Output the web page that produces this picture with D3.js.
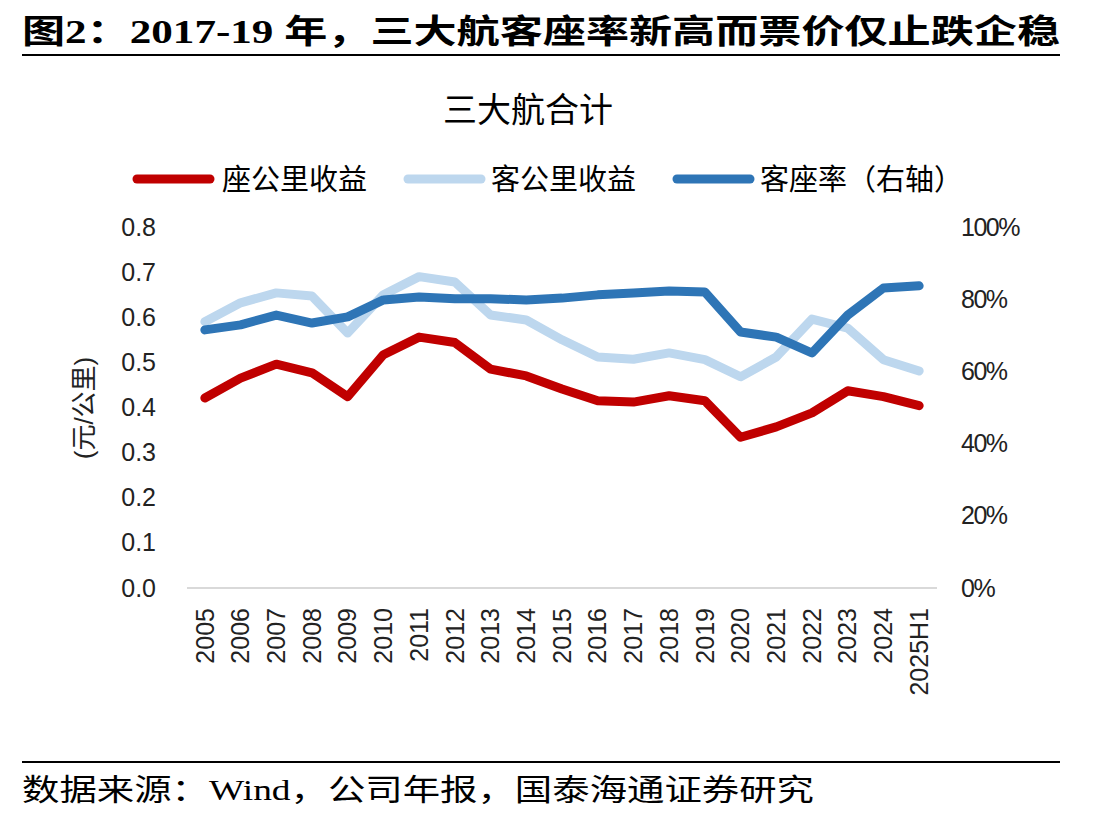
<!DOCTYPE html>
<html><head><meta charset="utf-8">
<script src="https://cdn.jsdelivr.net/npm/d3@7/dist/d3.min.js"></script>
<style>
body{margin:0;background:#fff;}
svg{display:block;}
</style></head>
<body><svg id="c" width="1107" height="821"></svg>
<script>
const categories = ["2005","2006","2007","2008","2009","2010","2011","2012","2013","2014","2015","2016","2017","2018","2019","2020","2021","2022","2023","2024","2025H1"];
const seatYield = [0.421,0.465,0.496,0.477,0.424,0.517,0.556,0.544,0.485,0.470,0.441,0.415,0.412,0.426,0.415,0.334,0.357,0.388,0.437,0.424,0.404];
const paxYield = [0.590,0.632,0.654,0.647,0.565,0.650,0.690,0.678,0.605,0.594,0.550,0.512,0.507,0.521,0.506,0.468,0.512,0.596,0.576,0.506,0.481];
const loadFactor = [0.715,0.729,0.756,0.734,0.751,0.798,0.806,0.801,0.801,0.798,0.803,0.812,0.817,0.823,0.820,0.709,0.695,0.651,0.756,0.831,0.837];
const leftTicks = [0,0.1,0.2,0.3,0.4,0.5,0.6,0.7,0.8];
const rightTicks = [0,0.2,0.4,0.6,0.8,1.0];
const seriesNames = ["座公里收益","客公里收益","客座率（右轴）"];
const colors = ["#C00000","#BDD7EE","#2E75B6"];

const svg = d3.select("#c");
const sans = "'Liberation Sans', Arial, 'Noto Sans CJK SC', sans-serif";
const serif = "'Liberation Serif', 'Times New Roman', 'Noto Sans CJK SC', serif";

// header
svg.append("text").attr("x",22).attr("y",43).attr("font-family",serif).attr("font-weight","bold")
  .attr("font-size",33).attr("fill","#000").attr("textLength",1038).attr("lengthAdjust","spacingAndGlyphs")
  .text("图2：2017-19 年，三大航客座率新高而票价仅止跌企稳");
svg.append("line").attr("x1",22).attr("x2",1060).attr("y1",55).attr("y2",55).attr("stroke","#000").attr("stroke-width",2);

// chart title
svg.append("text").attr("x",528).attr("y",122).attr("text-anchor","middle").attr("font-family",sans)
  .attr("font-size",34).attr("fill","#000").text("三大航合计");

const x = d3.scaleBand().domain(categories).range([187,937]);
const yL = d3.scaleLinear().domain([0,0.8]).range([588,227]);
const yR = d3.scaleLinear().domain([0,1]).range([588,227]);

// axis line
svg.append("line").attr("x1",187).attr("x2",937).attr("y1",588).attr("y2",588).attr("stroke","#d9d9d9").attr("stroke-width",2);

// left axis
const gL = svg.append("g").attr("transform","translate(187,0)")
  .call(d3.axisLeft(yL).tickValues(leftTicks).tickFormat(d3.format(".1f")).tickSize(0).tickPadding(31));
gL.select(".domain").remove();
gL.selectAll("text").attr("font-family",sans).attr("font-size",25).attr("fill","#222");

// right axis
const gR = svg.append("g").attr("transform","translate(937,0)")
  .call(d3.axisRight(yR).tickValues(rightTicks).tickFormat(d3.format(".0%")).tickSize(0).tickPadding(24));
gR.select(".domain").remove();
gR.selectAll("text").attr("font-family",sans).attr("font-size",25).attr("fill","#222").attr("letter-spacing","-1.5");

// bottom axis
const gB = svg.append("g").attr("transform","translate(0,588)")
  .call(d3.axisBottom(x).tickSize(0).tickPadding(10));
gB.select(".domain").remove();
gB.selectAll(".tick text").attr("font-family",sans).attr("font-size",25).attr("fill","#222")
  .attr("transform","rotate(-90)").attr("text-anchor","end").attr("x",-20).attr("y",0).attr("dy","0.35em");

// y label
svg.append("text").attr("transform","translate(93,408) rotate(-90)").attr("text-anchor","middle")
  .attr("font-family",sans).attr("font-size",26).attr("fill","#222").text("(元/公里)");

// lines
const cx = d => x(d) + x.bandwidth()/2;
const lineL = d3.line().x((d,i)=>cx(categories[i])).y(d=>yL(d));
const lineR = d3.line().x((d,i)=>cx(categories[i])).y(d=>yR(d));
const draw = (data, gen, col) => svg.append("path").datum(data).attr("d",gen).attr("fill","none")
  .attr("stroke",col).attr("stroke-width",9).attr("stroke-linejoin","round").attr("stroke-linecap","round");
draw(paxYield, lineL, colors[1]);
draw(seatYield, lineL, colors[0]);
draw(loadFactor, lineR, colors[2]);

// legend
const legX = [137, 408, 677];
const legTxtX = [222, 491, 760];
seriesNames.forEach((n,i)=>{
  svg.append("line").attr("x1",legX[i]).attr("x2",legX[i]+73).attr("y1",179).attr("y2",179)
    .attr("stroke",colors[i]).attr("stroke-width",9).attr("stroke-linecap","round");
  svg.append("text").attr("x",legTxtX[i]).attr("y",190).attr("font-family",sans).attr("font-size",29)
    .attr("fill","#000").text(n);
});

// footer
svg.append("line").attr("x1",22).attr("x2",1060).attr("y1",762).attr("y2",762).attr("stroke","#000").attr("stroke-width",2);
svg.append("text").attr("x",22).attr("y",800).attr("font-family",serif).attr("font-size",30).attr("fill","#000")
  .attr("textLength",792).attr("lengthAdjust","spacingAndGlyphs")
  .text("数据来源：Wind，公司年报，国泰海通证券研究");
</script></body></html>
